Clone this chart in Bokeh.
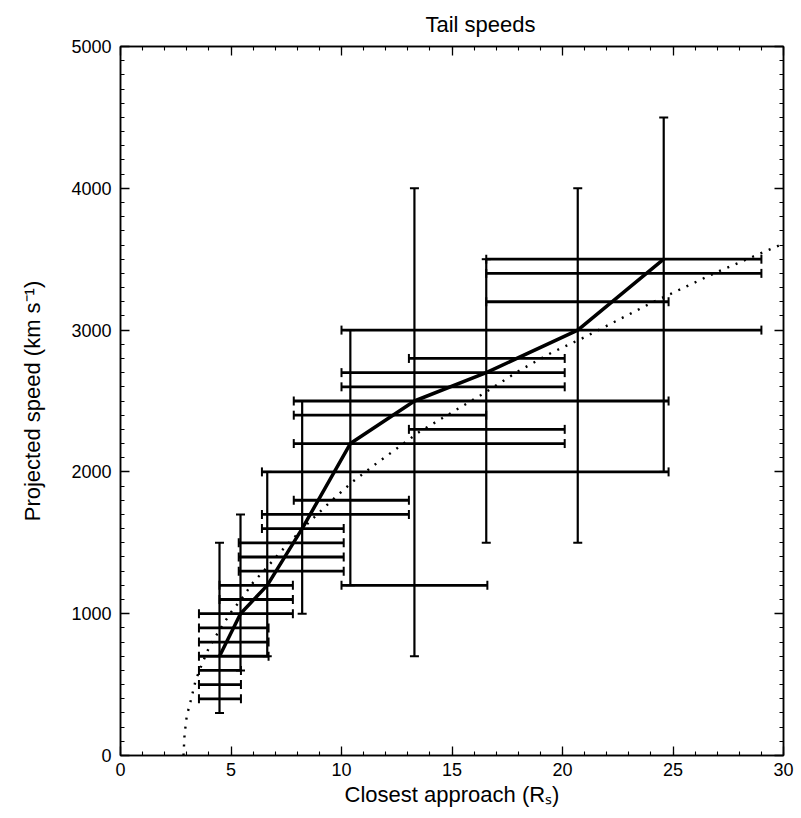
from bokeh.plotting import figure
from bokeh.models import (ColumnDataSource, Whisker, TeeHead, LinearAxis, Range1d,
                          SingleIntervalTicker)
from bokeh.embed import file_html
from bokeh.resources import INLINE

# ---- data ----
# vertical error bars (bin centres)
bin_x = [4.48, 5.43, 6.64, 8.22, 10.4, 13.3, 16.55, 20.69, 24.58]
bin_lo = [300, 600, 700, 1000, 1200, 700, 1500, 1500, 2000]
bin_hi = [1500, 1700, 2000, 2500, 3000, 4000, 3500, 4000, 4500]
bin_mean = [700, 1000, 1200, 1600, 2200, 2500, 2700, 3000, 3500]

# horizontal error bars (individual events)
ev_speed = [3500, 3400, 3200, 3000, 2800, 2700, 2600, 2500, 2400, 2300, 2200, 2000,
            1800, 1700, 1600, 1500, 1400, 1300, 1200, 1200, 1100, 1000, 900, 800,
            700, 600, 500, 400]
ev_rmin = [16.55, 16.55, 16.55, 10.0, 13.05, 10.0, 10.0, 7.84, 7.84, 13.05, 7.84, 6.4,
           7.84, 6.4, 6.4, 5.35, 5.35, 5.35, 10.0, 4.48, 4.48, 3.55, 3.55, 3.55,
           3.55, 3.55, 3.55, 3.55]
ev_rmax = [29.0, 29.0, 24.8, 29.0, 20.1, 20.1, 20.1, 24.8, 16.55, 20.1, 20.1, 24.8,
           13.05, 13.05, 10.1, 10.1, 10.1, 10.1, 16.6, 7.8, 7.8, 7.8, 6.7, 6.7,
           6.7, 5.45, 5.45, 5.45]

# dotted model curve
model_x = [2.85, 2.9, 3.0, 3.2, 3.4, 3.7, 4.0, 4.5, 5.0, 5.5, 6.0, 6.7, 7.5, 8.5,
           9.5, 10.5, 11.5, 12.5, 13.5, 15.0, 16.5, 18.0, 19.5, 21.0, 22.5, 24.0,
           25.5, 27.0, 28.5, 30.0]
model_v = [0, 150, 280, 400, 530, 650, 760, 890, 1010, 1110, 1220, 1340, 1480, 1640,
           1790, 1930, 2050, 2165, 2280, 2420, 2560, 2710, 2840, 2950, 3070, 3190,
           3300, 3410, 3510, 3610]

FONT = "Liberation Sans"

p = figure(width=801, height=818, output_backend="svg", toolbar_location=None,
           x_range=Range1d(0, 30), y_range=Range1d(0, 5000),
           frame_width=663, frame_height=709,
           min_border_left=120, min_border_right=18, min_border_top=46,
           min_border_bottom=63, title="Tail speeds")
p.background_fill_color = "white"
p.border_fill_color = "white"
p.grid.visible = False
p.outline_line_color = "black"
p.outline_line_width = 1.5

p.title.align = "left"
p.title.offset = 305
p.title.text_font = FONT
p.title.text_font_size = "22px"
p.title.text_font_style = "normal"
p.title.text_color = "black"
p.title.standoff = 19

xt = SingleIntervalTicker(interval=5, num_minor_ticks=5)
yt = SingleIntervalTicker(interval=1000, num_minor_ticks=10)


def style_axis(ax, show_labels=True):
    ax.major_tick_in = 9
    ax.major_tick_out = 0
    ax.minor_tick_in = 4
    ax.minor_tick_out = 0
    ax.axis_line_color = "black"
    ax.axis_line_width = 1.5
    ax.major_tick_line_color = "black"
    ax.minor_tick_line_color = "black"
    ax.major_tick_line_width = 1.3
    ax.minor_tick_line_width = 1.1
    ax.major_label_text_font = FONT
    if show_labels:
        ax.major_label_text_font_size = "18px"
        ax.major_label_text_color = "black"
    else:
        ax.major_label_text_font_size = "0px"
        ax.major_label_text_color = None
        ax.major_label_text_alpha = 0
    ax.axis_label_text_font = FONT
    ax.axis_label_text_font_size = "22px"
    ax.axis_label_text_font_style = "normal"
    ax.axis_label_text_color = "black"


p.xaxis.ticker = xt
p.yaxis.ticker = yt
style_axis(p.xaxis[0])
style_axis(p.yaxis[0])
p.xaxis.axis_label = "Closest approach (Rₛ)"
p.yaxis.axis_label = "Projected speed (km s⁻¹)"
p.xaxis.major_label_standoff = 7
p.yaxis.major_label_standoff = 9
p.xaxis.axis_label_standoff = 3
p.yaxis.axis_label_standoff = 23

top = LinearAxis(ticker=xt)
style_axis(top, False)
top.major_label_standoff = 0
p.add_layout(top, "above")
right = LinearAxis(ticker=yt)
style_axis(right, False)
right.major_label_standoff = 0
p.add_layout(right, "right")

# horizontal bars
hsrc = ColumnDataSource(dict(y=ev_speed, lo=ev_rmin, hi=ev_rmax))
hw = Whisker(source=hsrc, base="y", lower="lo", upper="hi", dimension="width",
             line_color="black", line_width=2.8,
             lower_head=TeeHead(size=9, line_color="black", line_width=2),
             upper_head=TeeHead(size=9, line_color="black", line_width=2))
p.add_layout(hw)

# vertical bars
vsrc = ColumnDataSource(dict(x=bin_x, lo=bin_lo, hi=bin_hi))
vw = Whisker(source=vsrc, base="x", lower="lo", upper="hi", dimension="height",
             line_color="black", line_width=2.2,
             lower_head=TeeHead(size=9, line_color="black", line_width=2),
             upper_head=TeeHead(size=9, line_color="black", line_width=2))
p.add_layout(vw)

# model curve (dotted)
p.line(model_x, model_v, line_color="black", line_width=2.4, line_dash="2 7")

# mean speed line
p.line(bin_x, bin_mean, line_color="black", line_width=3.5)

open("out.html", "w").write(file_html(p, INLINE))
